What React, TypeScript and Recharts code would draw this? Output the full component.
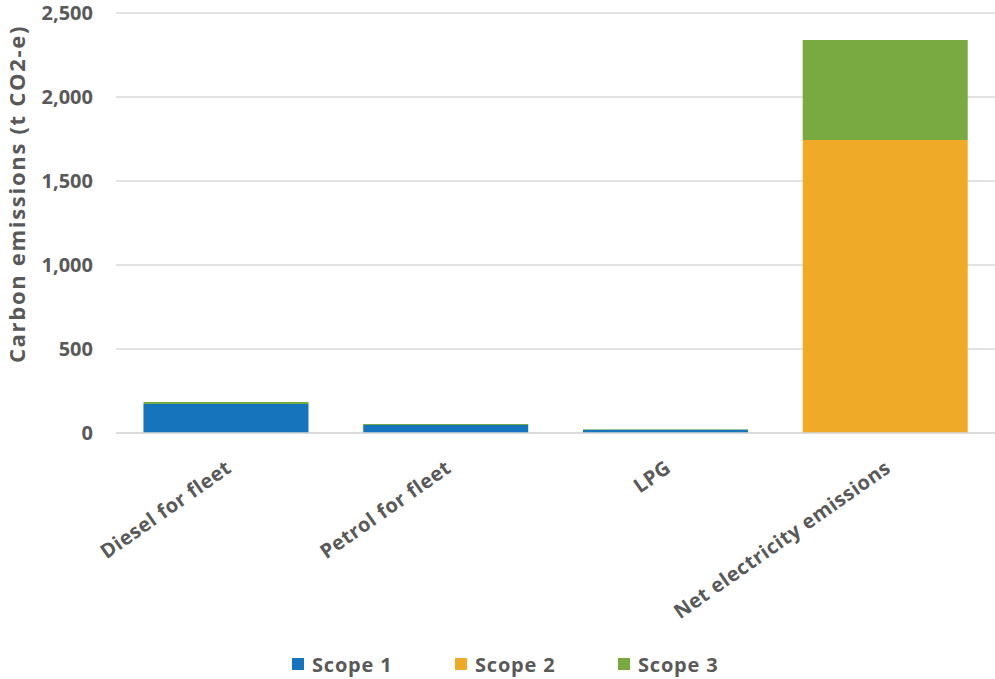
import React from "react";
import { BarChart, Bar, XAxis, YAxis, CartesianGrid, Legend } from "recharts";

// Emission sources along the category axis
const categories = ["Diesel for fleet", "Petrol for fleet", "LPG", "Net electricity emissions"];

// Tonnes of CO2-equivalent per scope
const scope1 = [172, 48, 19, 0];
const scope2 = [0, 0, 0, 1744];
const scope3 = [12, 6, 4, 596];

const yTicks = [0, 500, 1000, 1500, 2000, 2500];

const seriesNames = ["Scope 1", "Scope 2", "Scope 3"];
const seriesColors = ["#1674BC", "#EFAA27", "#79A941"];

const yTitle = "Carbon emissions (t CO2-e)";

const data = categories.map((name, i) => ({
  name,
  s1: scope1[i],
  s2: scope2[i],
  s3: scope3[i],
}));

const FONT = "'Open Sans', 'Segoe UI', sans-serif";
const TEXT = "#595959";

function CategoryTick(props: any) {
  const { x, y, payload } = props;
  return (
    <text
      transform={`translate(${x + 7},${y + 30}) rotate(-35)`}
      textAnchor="end"
      fill={TEXT}
      fontFamily={FONT}
      fontWeight={700}
      fontSize={20}
      letterSpacing={0.5}
    >
      {payload.value}
    </text>
  );
}

function YTitle() {
  return (
    <text
      transform="translate(25,194) rotate(-90)"
      textAnchor="middle"
      fill={TEXT}
      fontFamily={FONT}
      fontWeight={700}
      fontSize={22}
      letterSpacing={1.7}
    >
      {yTitle}
    </text>
  );
}

function LegendRow() {
  return (
    <div
      style={{
        display: "flex",
        justifyContent: "flex-start",
        paddingLeft: 292,
        height: 30,
        alignItems: "center",
        fontFamily: FONT,
        fontWeight: 700,
        fontSize: 20,
        letterSpacing: 0.8,
        color: TEXT,
      }}
    >
      {seriesNames.map((n, i) => (
        <div key={n} style={{ display: "flex", alignItems: "center", width: 163 }}>
          <span
            style={{
              display: "inline-block",
              width: 12,
              height: 12,
              background: seriesColors[i],
              marginRight: 8,
            }}
          />
          <span>{n}</span>
        </div>
      ))}
    </div>
  );
}

export default function App() {
  return (
    <div style={{ position: "absolute", left: 0, top: 0, background: "#fff" }}>
      <BarChart
        width={995}
        height={679}
        data={data}
        margin={{ top: 13, right: 0, left: 0, bottom: 0 }}
        barCategoryGap="12.5%"
      >
        <CartesianGrid vertical={false} stroke="#D9D9D9" strokeWidth={1.5} />
        <XAxis
          dataKey="name"
          axisLine={{ stroke: "#D9D9D9", strokeWidth: 1.5 }}
          tickLine={false}
          interval={0}
          height={216}
          tick={<CategoryTick />}
        />
        <YAxis
          width={116}
          domain={[0, 2500]}
          ticks={yTicks}
          axisLine={false}
          tickLine={false}
          tickMargin={17}
          tickFormatter={(v: number) => v.toLocaleString("en-US")}
          tick={{ fill: TEXT, fontFamily: FONT, fontWeight: 700, fontSize: 20 }}
          label={{ content: () => <YTitle /> }}
        />
        <Legend verticalAlign="bottom" content={() => <LegendRow />} />
        <Bar dataKey="s1" name={seriesNames[0]} stackId="a" fill={seriesColors[0]} isAnimationActive={false} />
        <Bar dataKey="s2" name={seriesNames[1]} stackId="a" fill={seriesColors[1]} isAnimationActive={false} />
        <Bar dataKey="s3" name={seriesNames[2]} stackId="a" fill={seriesColors[2]} isAnimationActive={false} />
      </BarChart>
    </div>
  );
}
